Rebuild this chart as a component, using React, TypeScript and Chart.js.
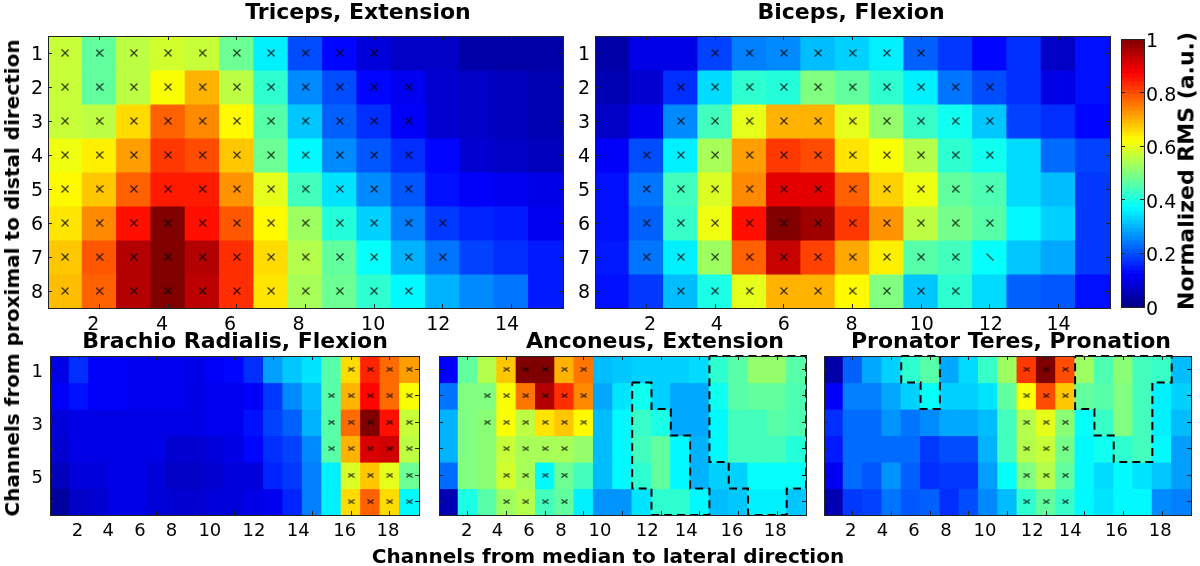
import React, { useEffect, useRef } from "react";
import { Chart, registerables } from "chart.js";

Chart.register(...registerables);

const FONT = "'DejaVu Sans', sans-serif";

const tricepsValues = [
  [0.57, 0.47, 0.56, 0.58, 0.57, 0.48, 0.36, 0.2, 0.13, 0.09, 0.07, 0.07, 0.04, 0.04, 0.04],
  [0.57, 0.47, 0.56, 0.62, 0.7, 0.56, 0.42, 0.26, 0.2, 0.13, 0.11, 0.08, 0.07, 0.06, 0.05],
  [0.57, 0.56, 0.66, 0.78, 0.74, 0.63, 0.46, 0.32, 0.22, 0.17, 0.12, 0.08, 0.07, 0.06, 0.05],
  [0.61, 0.64, 0.72, 0.82, 0.8, 0.68, 0.48, 0.37, 0.26, 0.21, 0.17, 0.13, 0.08, 0.07, 0.06],
  [0.63, 0.68, 0.78, 0.85, 0.85, 0.73, 0.6, 0.44, 0.35, 0.26, 0.21, 0.14, 0.12, 0.11, 0.1],
  [0.65, 0.74, 0.86, 1.0, 0.86, 0.79, 0.63, 0.53, 0.41, 0.33, 0.25, 0.18, 0.16, 0.15, 0.11],
  [0.68, 0.79, 0.95, 1.0, 0.95, 0.83, 0.66, 0.55, 0.47, 0.38, 0.3, 0.24, 0.19, 0.17, 0.15],
  [0.69, 0.78, 0.95, 1.0, 0.94, 0.83, 0.65, 0.54, 0.48, 0.42, 0.37, 0.3, 0.26, 0.24, 0.15],
];
const bicepsValues = [
  [0.04, 0.1, 0.1, 0.19, 0.25, 0.26, 0.31, 0.33, 0.36, 0.22, 0.18, 0.13, 0.17, 0.07, 0.14],
  [0.05, 0.08, 0.17, 0.34, 0.42, 0.41, 0.5, 0.47, 0.42, 0.36, 0.24, 0.2, 0.17, 0.1, 0.14],
  [0.07, 0.11, 0.26, 0.44, 0.6, 0.7, 0.7, 0.6, 0.52, 0.43, 0.39, 0.32, 0.19, 0.17, 0.13],
  [0.12, 0.2, 0.36, 0.54, 0.72, 0.82, 0.8, 0.65, 0.62, 0.55, 0.42, 0.39, 0.34, 0.23, 0.19],
  [0.14, 0.24, 0.44, 0.59, 0.74, 0.9, 0.9, 0.78, 0.67, 0.61, 0.47, 0.45, 0.34, 0.31, 0.18],
  [0.14, 0.22, 0.43, 0.61, 0.86, 1.0, 0.97, 0.82, 0.73, 0.56, 0.49, 0.46, 0.37, 0.33, 0.18],
  [0.15, 0.24, 0.36, 0.53, 0.78, 0.93, 0.81, 0.71, 0.64, 0.46, 0.44, 0.38, 0.32, 0.29, 0.18],
  [0.14, 0.18, 0.31, 0.4, 0.6, 0.7, 0.7, 0.63, 0.5, 0.32, 0.42, 0.34, 0.22, 0.21, 0.14],
];
const brachioValues = [
  [0.1, 0.17, 0.12, 0.12, 0.11, 0.11, 0.11, 0.1, 0.12, 0.13, 0.17, 0.28, 0.32, 0.35, 0.46, 0.66, 0.84, 0.77, 0.72],
  [0.12, 0.14, 0.12, 0.12, 0.11, 0.11, 0.11, 0.1, 0.11, 0.11, 0.12, 0.18, 0.26, 0.31, 0.46, 0.7, 0.87, 0.77, 0.62],
  [0.09, 0.1, 0.1, 0.1, 0.1, 0.1, 0.1, 0.1, 0.11, 0.11, 0.14, 0.19, 0.22, 0.3, 0.46, 0.77, 1.0, 0.86, 0.57],
  [0.08, 0.1, 0.1, 0.1, 0.1, 0.1, 0.08, 0.08, 0.09, 0.1, 0.13, 0.17, 0.19, 0.26, 0.46, 0.7, 0.91, 0.92, 0.56],
  [0.06, 0.09, 0.09, 0.1, 0.1, 0.09, 0.07, 0.07, 0.08, 0.09, 0.09, 0.16, 0.18, 0.25, 0.36, 0.59, 0.68, 0.6, 0.48],
  [0.03, 0.07, 0.08, 0.1, 0.1, 0.09, 0.08, 0.08, 0.09, 0.09, 0.1, 0.11, 0.16, 0.25, 0.36, 0.66, 0.78, 0.66, 0.37],
];
const anconeusValues = [
  [0.12, 0.47, 0.55, 0.68, 1.0, 1.0, 0.7, 0.76, 0.31, 0.32, 0.33, 0.33, 0.33, 0.34, 0.42, 0.46, 0.52, 0.52, 0.46],
  [0.24, 0.5, 0.5, 0.62, 0.76, 0.95, 0.83, 0.74, 0.29, 0.35, 0.39, 0.33, 0.29, 0.29, 0.39, 0.46, 0.47, 0.47, 0.45],
  [0.3, 0.5, 0.51, 0.62, 0.56, 0.65, 0.68, 0.63, 0.31, 0.37, 0.43, 0.4, 0.29, 0.29, 0.37, 0.44, 0.44, 0.46, 0.45],
  [0.3, 0.5, 0.51, 0.57, 0.54, 0.54, 0.54, 0.52, 0.31, 0.37, 0.44, 0.47, 0.37, 0.3, 0.37, 0.44, 0.44, 0.44, 0.41],
  [0.23, 0.5, 0.51, 0.58, 0.54, 0.37, 0.48, 0.44, 0.31, 0.37, 0.42, 0.47, 0.37, 0.3, 0.33, 0.33, 0.38, 0.38, 0.38],
  [0.05, 0.4, 0.46, 0.53, 0.55, 0.44, 0.47, 0.36, 0.27, 0.27, 0.35, 0.42, 0.42, 0.37, 0.31, 0.32, 0.36, 0.36, 0.32],
];
const pronatorValues = [
  [0.04, 0.22, 0.29, 0.33, 0.42, 0.46, 0.29, 0.34, 0.43, 0.53, 0.82, 1.0, 0.8, 0.53, 0.45, 0.51, 0.44, 0.43, 0.31],
  [0.12, 0.25, 0.25, 0.29, 0.33, 0.38, 0.33, 0.33, 0.35, 0.47, 0.62, 0.8, 0.68, 0.47, 0.46, 0.5, 0.44, 0.36, 0.33],
  [0.17, 0.23, 0.23, 0.27, 0.24, 0.26, 0.29, 0.29, 0.31, 0.44, 0.55, 0.6, 0.51, 0.38, 0.43, 0.5, 0.44, 0.36, 0.31],
  [0.15, 0.23, 0.23, 0.23, 0.23, 0.18, 0.2, 0.2, 0.3, 0.44, 0.55, 0.57, 0.49, 0.37, 0.39, 0.42, 0.44, 0.37, 0.28],
  [0.11, 0.23, 0.21, 0.27, 0.22, 0.17, 0.18, 0.18, 0.28, 0.38, 0.5, 0.55, 0.47, 0.37, 0.34, 0.37, 0.35, 0.32, 0.28],
  [0.05, 0.18, 0.19, 0.24, 0.21, 0.22, 0.17, 0.2, 0.26, 0.31, 0.42, 0.47, 0.43, 0.37, 0.35, 0.37, 0.37, 0.26, 0.25],
];

// First and last marked channel of each row
const tricepsMarks = [[1, 10], [1, 11], [1, 11], [1, 11], [1, 11], [1, 12], [1, 12], [1, 11]];
const bicepsMarks = [[4, 10], [3, 12], [3, 12], [2, 12], [2, 12], [2, 12], [2, 11], [3, 11]];
const bicepsSlashMarks = [{ x: 12, y: 7 }];
const brachioMarks = [[16, 19], [15, 19], [15, 19], [15, 19], [16, 19], [16, 19]];
const anconeusMarks = [[4, 8], [3, 8], [3, 8], [4, 7], [4, 7], [4, 7]];
const pronatorMarks = [[11, 13], [11, 13], [11, 13], [11, 13], [11, 13], [11, 13]];

// Dashed outlines, in channel units
const anconeusOutlines = [
  [[10.5, 1.5], [11.5, 1.5], [11.5, 2.5], [12.5, 2.5], [12.5, 3.5], [13.5, 3.5], [13.5, 5.5], [14.5, 5.5], [14.5, 6.5], [11.5, 6.5], [11.5, 5.5], [10.5, 5.5], [10.5, 1.5]],
  [[14.5, 0.5], [19.5, 0.5], [19.5, 5.5], [18.5, 5.5], [18.5, 6.5], [16.5, 6.5], [16.5, 5.5], [15.5, 5.5], [15.5, 4.5], [14.5, 4.5], [14.5, 0.5]],
];
const pronatorOutlines = [
  [[4.5, 0.5], [6.5, 0.5], [6.5, 2.5], [5.5, 2.5], [5.5, 1.5], [4.5, 1.5], [4.5, 0.5]],
  [[13.5, 0.5], [18.5, 0.5], [18.5, 1.5], [17.5, 1.5], [17.5, 4.5], [15.5, 4.5], [15.5, 3.5], [14.5, 3.5], [14.5, 2.5], [13.5, 2.5], [13.5, 0.5]],
];

const topXTicks = [2, 4, 6, 8, 10, 12, 14];
const bottomXTicks = [2, 4, 6, 8, 10, 12, 14, 16, 18];
const topYTicks = [1, 2, 3, 4, 5, 6, 7, 8];
const bottomYTicks = [1, 2, 3, 4, 5, 6];
const bottomYLabels = [1, 3, 5];
// The printed numbers do not sit exactly under their ticks in the source figure
const tricepsXLabelAt = [1.82, 3.82, 5.8, 7.8, 9.97, 11.87, 13.87];
const bicepsXLabelAt = [2.1, 4.05, 6.0, 7.97, 10.02, 12.03, 14.0];
const brachioXLabelAt = [1.92, 3.5, 5.13, 6.76, 8.73, 11.0, 13.28, 15.68, 17.9];
const anconeusXLabelAt = [1.93, 3.53, 5.16, 6.81, 8.83, 11.28, 13.3, 15.67, 17.91];
const pronatorXLabelAt = [1.88, 3.53, 5.16, 6.81, 8.83, 11.28, 13.25, 15.64, 17.91];

const colorbarTicks = [0, 0.2, 0.4, 0.6, 0.8, 1];
const colorbarLevels = [
  0, 0.016, 0.031, 0.047, 0.063, 0.078, 0.094, 0.109, 0.125, 0.141, 0.156, 0.172, 0.188, 0.203, 0.219, 0.234,
  0.25, 0.266, 0.281, 0.297, 0.313, 0.328, 0.344, 0.359, 0.375, 0.391, 0.406, 0.422, 0.438, 0.453, 0.469, 0.484,
  0.5, 0.516, 0.531, 0.547, 0.563, 0.578, 0.594, 0.609, 0.625, 0.641, 0.656, 0.672, 0.688, 0.703, 0.719, 0.734,
  0.75, 0.766, 0.781, 0.797, 0.813, 0.828, 0.844, 0.859, 0.875, 0.891, 0.906, 0.922, 0.938, 0.953, 0.969, 0.984, 1,
];

function jet(v: number) {
  const c = (t: number) => Math.round(255 * Math.max(0, Math.min(1, t)));
  return `rgb(${c(Math.min(4 * v - 1.5, -4 * v + 4.5))},${c(Math.min(4 * v - 0.5, -4 * v + 3.5))},${c(Math.min(4 * v + 0.5, -4 * v + 2.5))})`;
}

function markGlyph(w: number, h: number, both = true) {
  const cv = document.createElement("canvas");
  cv.width = w;
  cv.height = h;
  const g = cv.getContext("2d")!;
  g.strokeStyle = "rgba(0,0,0,0.8)";
  g.lineWidth = 1.1;
  g.beginPath();
  g.moveTo(0.5, 0.5);
  g.lineTo(w - 0.5, h - 0.5);
  if (both) {
    g.moveTo(w - 0.5, 0.5);
    g.lineTo(0.5, h - 0.5);
  }
  g.stroke();
  return cv;
}

const TICK = "#222";

function frameAxis(position: string, min: number, max: number, ticks: number[], reverse = false, size = 0) {
  const horizontal = position === "top" || position === "bottom";
  return {
    type: "linear",
    position,
    min,
    max,
    reverse,
    offset: false,
    afterBuildTicks: (s: any) => {
      s.ticks = ticks.map((value) => ({ value }));
    },
    ticks: { display: false, autoSkip: false, maxRotation: 0 },
    grid: { offset: false, drawOnChartArea: false, drawTicks: true, tickLength: -4, tickColor: TICK, z: 2, lineWidth: 1 },
    border: { display: true, color: TICK, width: 1, z: 2 },
    afterFit: (s: any) => {
      if (horizontal) s.height = size;
      else s.width = size;
    },
  };
}

function HeatPanel({ p }: { p: any }) {
  const ref = useRef<HTMLCanvasElement>(null);
  useEffect(() => {
    const glyph = markGlyph(p.markW, p.markH);
    const rows: any[] = p.values;
    const nx = rows[0].length;
    const ny = rows.length;
    const datasets: any[] = [];
    (p.outlines || []).forEach((o: number[][]) =>
      datasets.push({
        type: "scatter",
        order: 0,
        showLine: true,
        clip: false,
        data: o.map(([x, y]) => ({ x, y })),
        borderColor: "#000",
        borderWidth: 2,
        borderDash: [8, 5],
        pointRadius: 0,
      })
    );
    const marks: any[] = [];
    p.marks.forEach(([a, b]: number[], r: number) => {
      for (let c = a; c <= b; c++) marks.push({ x: c, y: r + 1 });
    });
    datasets.push({ type: "scatter", order: 0, data: marks, pointStyle: glyph, pointRadius: 3 });
    if (p.slash) {
      datasets.push({ type: "scatter", order: 0, data: p.slash, pointStyle: markGlyph(p.markW, p.markH, false), pointRadius: 3 });
    }
    rows.forEach((vals: number[], r: number) =>
      datasets.push({
        type: "bar",
        order: 1,
        data: vals.map((_, i) => ({ x: i + 1, y: [r + 0.5, r + 1.5] })),
        backgroundColor: vals.map(jet),
        grouped: false,
        barPercentage: 1,
        categoryPercentage: 1,
        borderWidth: 0,
        inflateAmount: 0.6,
        xAxisID: "x",
        yAxisID: "y",
      })
    );
    const chart = new Chart(ref.current!, {
      type: "bar",
      data: { datasets },
      options: {
        animation: false,
        responsive: false,
        devicePixelRatio: 1,
        layout: { padding: 0 },
        plugins: {
          legend: { display: false },
          tooltip: { enabled: false },
          title: {
            display: true,
            text: p.title,
            color: "#000",
            font: { family: FONT, size: p.titleSize, weight: "bold", lineHeight: 1.2 },
            padding: { top: p.titleTop, bottom: p.titleBottom },
          },
        },
        scales: {
          x: frameAxis("bottom", 0.5, nx + 0.5, p.xTicks),
          xTop: frameAxis("top", 0.5, nx + 0.5, p.xTicks),
          xLabels: {
            type: "linear",
            position: "bottom",
            min: 0.5,
            max: nx + 0.5,
            offset: false,
            afterBuildTicks: (s: any) => {
              s.ticks = p.xLabelAt.map((value: number) => ({ value }));
            },
            ticks: {
              autoSkip: false,
              maxRotation: 0,
              minRotation: 0,
              padding: p.xPad,
              color: "#000",
              font: { family: FONT, size: p.tickSize },
              callback: (_: any, i: number) => String(p.xTicks[i]),
            },
            grid: { display: false, drawTicks: false },
            border: { display: false },
            afterFit: (s: any) => {
              s.height = p.bottom;
            },
          },
          y: {
            ...frameAxis("left", 0.5, ny + 0.5, p.yTicks, true),
            ticks: {
              display: !!p.yLabels,
              autoSkip: false,
              padding: p.yPad,
              labelOffset: p.yShift,
              color: "#000",
              font: { family: FONT, size: p.tickSize },
              callback: (v: number) => (p.yLabels && p.yLabels.includes(v) ? String(v) : ""),
            },
            afterFit: (s: any) => {
              s.width = p.left;
            },
          },
          yRight: frameAxis("right", 0.5, ny + 0.5, p.yTicks, true, p.right),
        },
      } as any,
    });
    return () => chart.destroy();
  }, []);
  return (
    <canvas
      ref={ref}
      width={p.w}
      height={p.h}
      style={{ position: "absolute", left: p.cx, top: p.cy, width: p.w, height: p.h }}
    />
  );
}

function Colorbar() {
  const ref = useRef<HTMLCanvasElement>(null);
  useEffect(() => {
    const bands = colorbarLevels.slice(0, -1);
    const chart = new Chart(ref.current!, {
      type: "bar",
      data: {
        datasets: [
          {
            data: bands.map((v, i) => ({ x: 1, y: [v, colorbarLevels[i + 1]] })),
            backgroundColor: bands.map((v, i) => jet((v + colorbarLevels[i + 1]) / 2)),
            grouped: false,
            barPercentage: 1,
            categoryPercentage: 1,
            borderWidth: 0,
            inflateAmount: 0.6,
            xAxisID: "x",
            yAxisID: "y",
          },
        ],
      },
      options: {
        animation: false,
        responsive: false,
        devicePixelRatio: 1,
        layout: { padding: { top: 39, bottom: 29, left: 0, right: 0 } },
        plugins: { legend: { display: false }, tooltip: { enabled: false }, title: { display: false } },
        scales: {
          x: frameAxis("bottom", 0.5, 1.5, []),
          xTop: frameAxis("top", 0.5, 1.5, []),
          y: {
            ...frameAxis("right", 0, 1, colorbarTicks),
            ticks: {
              display: true,
              autoSkip: false,
              padding: 6,
              labelOffset: 3,
              color: "#000",
              font: { family: FONT, size: 19 },
              callback: (v: number) => String(v),
            },
            afterFit: (s: any) => {
              s.width = 56;
            },
          },
          yLeft: {
            ...frameAxis("left", 0, 1, colorbarTicks),
            afterFit: (s: any) => {
              s.width = 21;
            },
          },
        },
      } as any,
    });
    return () => chart.destroy();
  }, []);
  return (
    <canvas
      ref={ref}
      width={100}
      height={336}
      style={{ position: "absolute", left: 1100, top: 0, width: 100, height: 336 }}
    />
  );
}

const topCommon = { titleSize: 22, titleTop: 0, titleBottom: 9.6, tickSize: 19, markW: 8, markH: 8, xPad: 6, yPad: 9, yShift: 2, yTicks: topYTicks, yLabels: topYTicks, xTicks: topXTicks };
const botCommon = { titleSize: 22, titleTop: 0, titleBottom: 0.6, tickSize: 18, markW: 7, markH: 5, xPad: 6, yPad: 11, yShift: 3, yTicks: bottomYTicks, xTicks: bottomXTicks };

const panels = [
  { ...topCommon, title: "Triceps, Extension", values: tricepsValues, marks: tricepsMarks, xLabelAt: tricepsXLabelAt, cx: 0, cy: 0, w: 716, h: 340, left: 48, right: 153, bottom: 32 },
  { ...topCommon, title: "Biceps, Flexion", values: bicepsValues, marks: bicepsMarks, slash: bicepsSlashMarks, xLabelAt: bicepsXLabelAt, cx: 560, cy: 0, w: 582, h: 340, left: 35, right: 32, bottom: 32 },
  { ...botCommon, title: "Brachio Radialis, Flexion", values: brachioValues, marks: brachioMarks, xLabelAt: brachioXLabelAt, yLabels: bottomYLabels, cx: 0, cy: 329, w: 470, h: 237, left: 50, right: 51, bottom: 51 },
  { ...botCommon, title: "Anconeus, Extension", values: anconeusValues, marks: anconeusMarks, outlines: anconeusOutlines, xLabelAt: anconeusXLabelAt, cx: 425, cy: 329, w: 460, h: 237, left: 14, right: 79, bottom: 51 },
  { ...botCommon, title: "Pronator Teres, Pronation", values: pronatorValues, marks: pronatorMarks, outlines: pronatorOutlines, xLabelAt: pronatorXLabelAt, cx: 814, cy: 329, w: 394, h: 237, left: 10, right: 17, bottom: 51 },
];

const labelStyle: React.CSSProperties = {
  position: "absolute",
  fontFamily: FONT,
  fontWeight: "bold",
  color: "#000",
  whiteSpace: "nowrap",
};

export default function App() {
  return (
    <div style={{ position: "fixed", left: 0, top: 0, width: 1200, height: 566, overflow: "hidden", background: "#fff" }}>
      {panels.map((p) => (
        <HeatPanel key={p.title} p={p} />
      ))}
      <Colorbar />
      <div style={{ ...labelStyle, left: 12, top: 278, fontSize: 20, transform: "translate(-50%,-50%) rotate(-90deg)" }}>
        Channels from proximal to distal direction
      </div>
      <div style={{ ...labelStyle, left: 608, top: 556, fontSize: 20, transform: "translate(-50%,-50%)" }}>
        Channels from median to lateral direction
      </div>
      <div style={{ ...labelStyle, left: 1186, top: 171, fontSize: 22, transform: "translate(-50%,-50%) rotate(-90deg)" }}>
        Normalized RMS (a.u.)
      </div>
    </div>
  );
}
